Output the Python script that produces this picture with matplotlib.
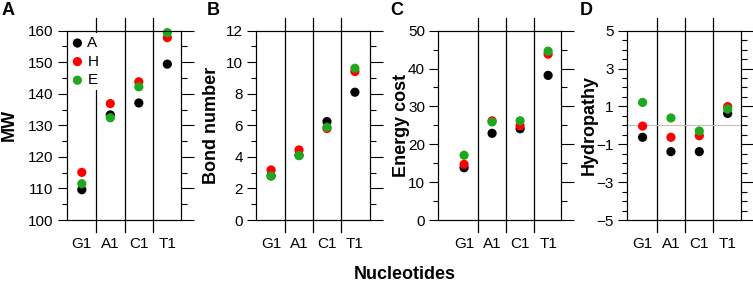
import matplotlib.pyplot as plt
from matplotlib.ticker import MultipleLocator, FixedLocator

plt.rcParams['font.family'] = ['Liberation Sans', 'DejaVu Sans']

nucleotides = ['G1', 'A1', 'C1', 'T1']
series = ['A', 'H', 'E']
colors = ['#000000', '#ff0000', '#1fa81f']

# MW
mw_A = [109.6, 133.3, 137.1, 149.4]
mw_H = [115.1, 136.9, 143.8, 157.8]
mw_E = [111.5, 132.4, 142.2, 159.4]

# bond number
bond_A = [2.8, 4.1, 6.24, 8.1]
bond_H = [3.17, 4.44, 5.8, 9.41]
bond_E = [2.79, 4.08, 5.88, 9.62]

# energy cost
energy_A = [13.8, 22.9, 24.1, 38.2]
energy_H = [14.7, 26.2, 24.9, 43.8]
energy_E = [17.1, 25.9, 26.2, 44.6]

# hydropathy
hydro_A = [-0.63, -1.39, -1.39, 0.63]
hydro_H = [-0.04, -0.63, -0.55, 0.99]
hydro_E = [1.21, 0.39, -0.30, 0.86]

W, H = 753, 284
fig = plt.figure(figsize=(W / 100, H / 100), dpi=100)

top_px, bot_px = 30.7, 220
panels = [
    # letter, ylabel, data, ylim, major, minor, left_px, right_px, xlim, label x, letter x (px)
    ('A', 'MW', (mw_A, mw_H, mw_E), (100, 160), MultipleLocator(10), MultipleLocator(5),
     66.7, 181, (-0.53, 3.48), 9, 2),
    ('B', 'Bond number', (bond_A, bond_H, bond_E), (0, 12), MultipleLocator(2), MultipleLocator(1),
     256, 370, (-0.54, 3.54), 211.5, 207),
    ('C', 'Energy cost', (energy_A, energy_H, energy_E), (0, 50), MultipleLocator(10), MultipleLocator(5),
     438.3, 561, (-0.92, 3.46), 401, 390),
    ('D', 'Hydropathy', (hydro_A, hydro_H, hydro_E), (-5, 5), FixedLocator([-5, -3, -1, 1, 3, 5]),
     MultipleLocator(0.5), 626.7, 741, (-0.56, 3.47), 589, 580),
]

for letter, ylab, data, ylim, major, minor, lpx, rpx, xlim, labx, letx in panels:
    ax = fig.add_axes([lpx / W, 1 - bot_px / H, (rpx - lpx) / W, (bot_px - top_px) / H])
    x = list(range(len(nucleotides)))
    for vals, c, name in zip(data, colors, series):
        ax.scatter(x, vals, s=44, color=c, edgecolors='none', label=name, zorder=3, clip_on=False)

    ax.set_xlim(*xlim)
    ax.set_ylim(*ylim)
    ax.set_xticks(x)
    ax.set_xticklabels(nucleotides)
    ax.tick_params(axis='x', length=0, pad=12, labelsize=11)
    ax.yaxis.set_major_locator(major)
    ax.yaxis.set_minor_locator(minor)
    ax.tick_params(axis='y', which='major', length=6.5, width=0.8, labelsize=11, pad=3)
    ax.tick_params(axis='y', which='minor', length=3.3, width=0.8)
    for sp in ax.spines.values():
        sp.set_linewidth(0.8)

    # right-hand ticks, longer, no labels
    tw = ax.twinx()
    tw.set_ylim(*ylim)
    tw.yaxis.set_major_locator(major)
    tw.yaxis.set_minor_locator(minor)
    tw.tick_params(axis='y', which='major', length=9, width=0.8, labelright=False)
    tw.tick_params(axis='y', which='minor', length=4.5, width=0.8)

    # separators between nucleotides
    for xs in [0.5, 1.5, 2.5]:
        ax.axvline(xs, ymin=-0.062, ymax=1.065, color='black', lw=0.9, clip_on=False, zorder=1)

    if letter == 'D':
        ax.axhline(0, color='#c0c0c0', lw=0.8, zorder=1)

    ax.set_ylabel(ylab, fontsize=13, fontweight='bold', va='center')
    ax.yaxis.set_label_coords((labx - lpx) / (rpx - lpx), 0.5)

    fig.text(letx / W, 1 - 2 / H, letter, fontsize=13, fontweight='bold', va='top', ha='left')

    if letter == 'A':
        leg = ax.legend(loc='upper left', frameon=True, framealpha=1, edgecolor='none',
                        fontsize=11, handlelength=0.7, handletextpad=0.3, borderpad=0.2,
                        borderaxespad=0.15, labelspacing=0.3, scatterpoints=1)
        leg.set_zorder(5)

fig.text(405 / W, 1 / H, 'Nucleotides', fontsize=13, fontweight='bold', ha='center', va='bottom')

plt.savefig('out.png', dpi=100)
